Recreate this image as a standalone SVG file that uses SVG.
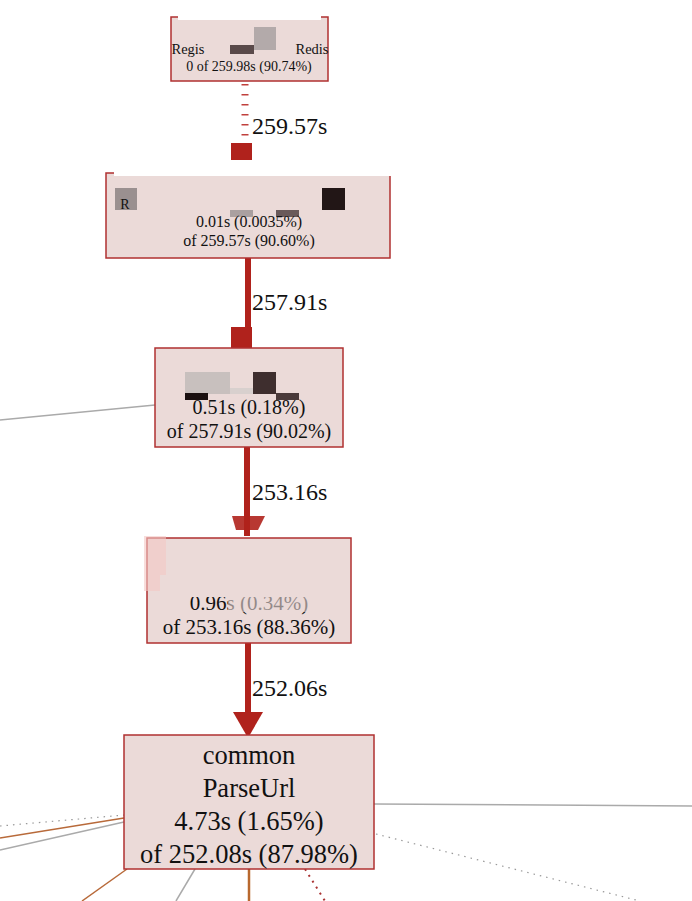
<svg xmlns="http://www.w3.org/2000/svg" width="692" height="901" viewBox="0 0 692 901">
<style>
.node rect.box{fill:#ebdad8;stroke:#b03030;stroke-width:1.5}
text{font-family:"Liberation Serif","Times New Roman",serif;fill:#111;text-anchor:middle}
.lbl{font-size:24px;text-anchor:start}
.hot{stroke:#b0221c;fill:none}
.gray{stroke:#aaa;fill:none;stroke-width:1.5}
.brown{stroke:#b86a3a;fill:none;stroke-width:1.5}
.dot{stroke:#999;fill:none;stroke-width:1.2;stroke-dasharray:1.5 5}
.mask{fill:#fff}
</style>
<rect width="692" height="901" fill="#fff"/>
<g id="connectors">
  <path d="M245 84 V140" stroke="#c0403c" stroke-width="7" stroke-dasharray="1.5 8.5" fill="none"/>
  <rect x="231" y="143" width="21" height="22" fill="#b0221c"/>
  <path class="hot" d="M248 258 V327" stroke-width="6"/>
  <rect x="231" y="327" width="21" height="22" fill="#b0221c"/>
  <path class="hot" d="M247 447 V536" stroke-width="6"/>
  <path d="M232 516 L265 516 L258 530 L236 530 Z" fill="#b0221c" opacity="0.9"/>
  <path class="hot" d="M248 643 V714" stroke-width="6"/>
  <polygon points="233,712 263,712 248,738" fill="#b0221c"/>
  <path class="gray" d="M0 420 L155 405"/>
  <path class="gray" d="M374 804 L692 806"/>
  <path class="dot" d="M0 826 L124 815"/>
  <path class="brown" d="M0 838 L124 818"/>
  <path class="gray" d="M0 850 L124 822"/>
  <path class="dot" d="M376 834 L640 901"/>
  <path class="brown" d="M127 869 L82 901"/>
  <path class="gray" d="M195 869 L176 901"/>
  <path d="M249 869 V901" stroke="#b8682e" stroke-width="2.5" fill="none"/>
  <path d="M305 869 L325 901" stroke="#a33" stroke-width="2" stroke-dasharray="2 5" fill="none"/>
  <text class="lbl" x="252" y="134">259.57s</text>
  <text class="lbl" x="252" y="310">257.91s</text>
  <text class="lbl" x="252" y="500">253.16s</text>
  <text class="lbl" x="252" y="696">252.06s</text>
</g>
<g id="node1" class="node">
  <rect class="box" x="171" y="17" width="157" height="64"/>
  <rect class="mask" x="178" y="10" width="143" height="10"/>
  <text x="188" y="54" font-size="14.5" text-anchor="start">Regis</text>
  <text x="312" y="54" font-size="14.5" text-anchor="end">Redis</text>
  <rect x="254" y="27" width="22" height="23" fill="#b3aaaa"/>
  <rect x="230" y="45" width="24" height="9" fill="#5a4a4a"/>
  <text x="249" y="71" font-size="14">0 of 259.98s (90.74%)</text>
</g>
<g id="node2" class="node">
  <rect class="box" x="106" y="173" width="284" height="85"/>
  <rect class="mask" x="114" y="160" width="278" height="16"/>
  <rect x="115" y="188" width="22" height="22" fill="#9a9090"/>
  <text x="125" y="209" font-size="14" fill="#444">R</text>
  <rect x="322" y="188" width="23" height="22" fill="#221616"/>
  <rect x="230" y="210" width="23" height="7" fill="#aaa0a0"/>
  <rect x="276" y="210" width="23" height="7" fill="#6a5a5a"/>
  <text x="249" y="227" font-size="16">0.01s (0.0035%)</text>
  <text x="249" y="246" font-size="16">of 259.57s (90.60%)</text>
</g>
<g id="node3" class="node">
  <rect class="box" x="155" y="348" width="188" height="99"/>
  <text x="249" y="414" font-size="20">0.51s (0.18%)</text>
  <rect x="185" y="372" width="45" height="22" fill="#c8c0be"/>
  <rect x="253" y="372" width="23" height="22" fill="#3e2e2e"/>
  <rect x="230" y="388" width="23" height="6" fill="#d8d0ce"/>
  <rect x="185" y="393" width="23" height="7" fill="#1a1010"/>
  <rect x="276" y="393" width="23" height="7" fill="#4a3a3a"/>
  <text x="249" y="438" font-size="20">of 257.91s (90.02%)</text>
</g>
<g id="node4" class="node">
  <rect class="box" x="147" y="538" width="204" height="105"/>
  <rect x="144" y="536" width="22" height="55" fill="#f4c8c4" opacity="0.6"/>
  <text x="249" y="610" font-size="21" fill="#555">0.96s (0.34%)</text>
  <rect x="160" y="575" width="180" height="22" fill="#ebdad8"/>
  <rect x="228" y="596" width="96" height="16" fill="#ebdad8" opacity="0.6"/>
  <text x="249" y="634" font-size="21">of 253.16s (88.36%)</text>
</g>
<g id="node5" class="node">
  <rect class="box" x="124" y="735" width="250" height="134"/>
  <text x="249" y="764" font-size="26.5">common</text>
  <text x="249" y="797" font-size="26.5">ParseUrl</text>
  <text x="249" y="830" font-size="26.5">4.73s (1.65%)</text>
  <text x="249" y="863" font-size="26.5">of 252.08s (87.98%)</text>
</g>
</svg>
